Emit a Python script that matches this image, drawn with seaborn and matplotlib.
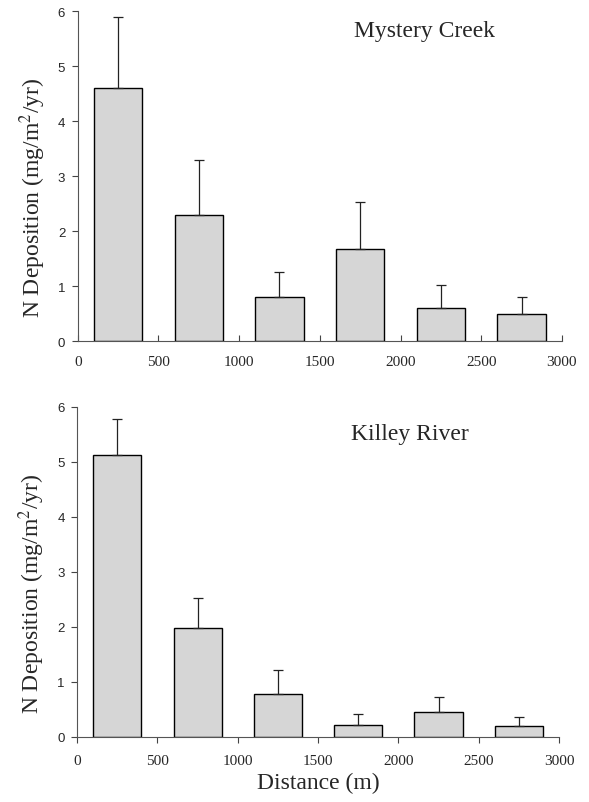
import matplotlib
matplotlib.use("Agg")
import matplotlib.pyplot as plt
import seaborn as sns
import pandas as pd
import numpy as np

# Data
distance = [250, 750, 1250, 1750, 2250, 2750]
mystery_mean = [4.60, 2.30, 0.81, 1.67, 0.61, 0.49]
mystery_err = [1.30, 1.00, 0.44, 0.86, 0.41, 0.32]
killey_mean = [5.12, 1.98, 0.78, 0.22, 0.46, 0.20]
killey_err = [0.66, 0.55, 0.44, 0.20, 0.26, 0.16]
panel_titles = ["Mystery Creek", "Killey River"]
xticks = [0, 500, 1000, 1500, 2000, 2500, 3000]
yticks = [0, 1, 2, 3, 4, 5, 6]

sns.set_style("ticks")
plt.rcParams["mathtext.fontset"] = "stix"

fig = plt.figure(figsize=(5.89, 8.03), dpi=100)
ax1 = fig.add_axes([0.132, 0.574, 0.822, 0.411])
ax2 = fig.add_axes([0.131, 0.081, 0.818, 0.411])

serif = ["Liberation Serif", "DejaVu Serif"]
sans = ["Liberation Sans", "DejaVu Sans"]

panels = [
    (ax1, mystery_mean, mystery_err, panel_titles[0], (0.717, 0.94), "in"),
    (ax2, killey_mean, killey_err, panel_titles[1], (0.69, 0.918), "out"),
]

for ax, means, errs, title, tpos, xdir in panels:
    df = pd.DataFrame({"distance": distance, "value": means})
    sns.barplot(data=df, x="distance", y="value", native_scale=True, width=0.6,
                color="#d6d6d6", edgecolor="black", linewidth=1.0,
                saturation=1, errorbar=None, ax=ax, zorder=2)
    ax.errorbar(distance, means, yerr=[np.zeros(len(errs)), errs], fmt="none",
                ecolor="#222222", elinewidth=0.9, capsize=3.5, capthick=0.9, zorder=3)
    ax.set_xlim(0, 3000)
    ax.set_ylim(0, 6)
    ax.set_xticks(xticks)
    ax.set_yticks(yticks)
    ax.set_xticklabels([str(t) for t in xticks], fontfamily=serif, fontsize=11)
    ax.set_yticklabels([str(t) for t in yticks], fontfamily=sans, fontsize=9.5)
    ax.tick_params(axis="y", length=4, width=0.8, color="#444444", pad=5)
    ax.tick_params(axis="x", direction=xdir, length=4, width=0.8, color="#444444",
                   pad=10 if xdir == "in" else 8)
    for s in ["top", "right"]:
        ax.spines[s].set_visible(False)
    for s in ["left", "bottom"]:
        ax.spines[s].set_color("#555555")
        ax.spines[s].set_linewidth(0.8)
    ax.set_ylabel("N Deposition (mg/m$^2$/yr)", fontfamily=serif, fontsize=17)
    ax.yaxis.set_label_coords(-0.062, 0.436)
    ax.set_xlabel("")
    ax.text(tpos[0], tpos[1], title, transform=ax.transAxes, ha="center", va="center",
            fontfamily=serif, fontsize=17)

ax2.set_xlabel("Distance (m)", fontfamily=serif, fontsize=17, labelpad=4)

fig.savefig("out.png", dpi=100, facecolor="white")
